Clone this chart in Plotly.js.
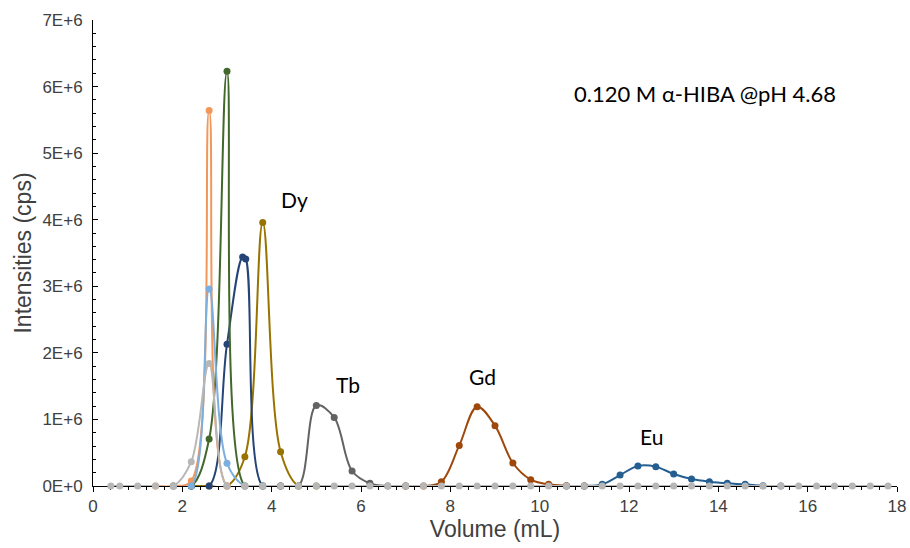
<!DOCTYPE html>
<html><head><meta charset="utf-8">
<script src="https://cdn.plot.ly/plotly-3.0.1.min.js"></script>
<style>html,body{margin:0;padding:0;background:#fff}#chart{width:910px;height:548px}</style>
</head><body><div id="chart"></div>
<script>
// Volume (mL) and intensities (cps)
const grayX = [0.4,0.6,1.0,1.4,1.8,2.2,2.6,3.0,3.4,3.8,4.2,4.6,5.0,5.4,5.8,6.2,6.6,7.0,7.4,7.8,8.2,8.6,9.0,9.4,9.8,10.2,10.6,11.0,11.4,11.8,12.2,12.6,13.0,13.4,13.8,14.2,14.6,15.0,15.4,15.8,16.2,16.6,17.0,17.4,17.8];
const grayY = [0,0,0,0,0,365000,1840000,0,0,0,0,0,0,0,0,0,0,0,0,0,0,0,0,0,0,0,0,0,0,0,0,0,0,0,0,0,0,0,0,0,0,0,0,0,0];

const orangeX = [1.4,1.8,2.2,2.6,3.0,3.4];
const orangeY = [0,0,75000,5640000,0,0];

const greenX = [1.8,2.2,2.6,3.0,3.4,3.8];
const greenY = [0,0,706000,6230000,0,0];

const lightBlueX = [1.8,2.2,2.6,3.0,3.4,3.8];
const lightBlueY = [0,0,2960000,340000,0,0];

const navyX = [2.2,2.6,3.0,3.35,3.42,3.8,4.2];
const navyY = [0,0,2130000,3440000,3410000,0,0];

const dyX = [2.2,2.6,3.0,3.4,3.8,4.2,4.6,5.0];
const dyY = [0,0,0,440000,3960000,515000,0,0];

const tbX = [4.2,4.6,5.0,5.4,5.8,6.2,6.6,7.0];
const tbY = [0,0,1210000,1030000,225000,40000,0,0];

const gdX = [7.0,7.4,7.8,8.2,8.6,9.0,9.4,9.8,10.2,10.6,11.0];
const gdY = [0,0,65000,610000,1190000,906000,345000,95000,25000,5000,0];

const euX = [10.6,11.0,11.4,11.8,12.2,12.6,13.0,13.4,13.8,14.2,14.6,15.0,15.4];
const euY = [0,0,25000,165000,300000,290000,180000,105000,65000,40000,25000,5000,0];

const yTickVals = [0,1000000,2000000,3000000,4000000,5000000,6000000,7000000];
const yTickText = ["0E+0","1E+6","2E+6","3E+6","4E+6","5E+6","6E+6","7E+6"];
const peakLabels = ["Dy","Tb","Gd","Eu"];
const noteText = "0.120 M α-HIBA @pH 4.68";

function tr(x, y, color) {
  return {
    x: x, y: y, type: 'scatter', mode: 'lines+markers',
    line: {color: color, width: 2, shape: 'spline', smoothing: 1},
    marker: {color: color, size: 7},
    cliponaxis: false, hoverinfo: 'skip'
  };
}

const data = [
  tr(euX, euY, '#255E91'),
  tr(gdX, gdY, '#9E480E'),
  tr(tbX, tbY, '#636363'),
  tr(dyX, dyY, '#997300'),
  tr(navyX, navyY, '#264478'),
  tr(greenX, greenY, '#43682B'),
  tr(orangeX, orangeY, '#F1975A'),
  tr(lightBlueX, lightBlueY, '#7CAFDD'),
  tr(grayX, grayY, '#B7B7B7')
];

const lblFont = {family: 'Lato, sans-serif', size: 21, color: '#000'};
const layout = {
  width: 910, height: 548,
  margin: {l: 93, r: 13, t: 20, b: 62},
  paper_bgcolor: '#fff', plot_bgcolor: '#fff',
  showlegend: false, hovermode: false,
  font: {family: '"Liberation Sans", Arial, sans-serif', color: '#404040'},
  xaxis: {
    range: [0, 18], dtick: 2, tick0: 0,
    showgrid: false, zeroline: false,
    showline: true, linecolor: '#000', linewidth: 1,
    ticks: 'outside', ticklen: 5, tickcolor: '#000',
    minor: {dtick: 0.4, ticks: 'outside', ticklen: 3, tickcolor: '#000', showgrid: false},
    tickfont: {size: 17, color: '#404040'},
    title: {text: 'Volume (mL)', font: {size: 23, color: '#404040'}, standoff: 4},
    layer: 'below traces'
  },
  yaxis: {
    range: [0, 7000000],
    tickvals: yTickVals, ticktext: yTickText,
    showgrid: false, zeroline: false,
    showline: true, linecolor: '#000', linewidth: 1,
    ticks: 'inside', ticklen: 5, tickcolor: '#000',
    ticklabelstandoff: 6,
    minor: {dtick: 200000, ticks: 'inside', ticklen: 3, tickcolor: '#000', showgrid: false},
    tickfont: {size: 17, color: '#404040'},
    title: {text: 'Intensities (cps)', font: {size: 23, color: '#404040'}, standoff: 4},
    layer: 'below traces'
  },
  annotations: [
    {x: 4.52, y: 4310000, text: peakLabels[0], showarrow: false, font: lblFont},
    {x: 5.71, y: 1520000, text: peakLabels[1], showarrow: false, font: lblFont},
    {x: 8.71, y: 1640000, text: peakLabels[2], showarrow: false, font: lblFont},
    {x: 12.51, y: 750000, text: peakLabels[3], showarrow: false, font: lblFont},
    {x: 13.7, y: 5900000, text: noteText, showarrow: false, font: Object.assign({}, lblFont, {size: 22})}
  ]
};

Plotly.newPlot('chart', data, layout, {displayModeBar: false, staticPlot: true});
</script>
</body></html>
